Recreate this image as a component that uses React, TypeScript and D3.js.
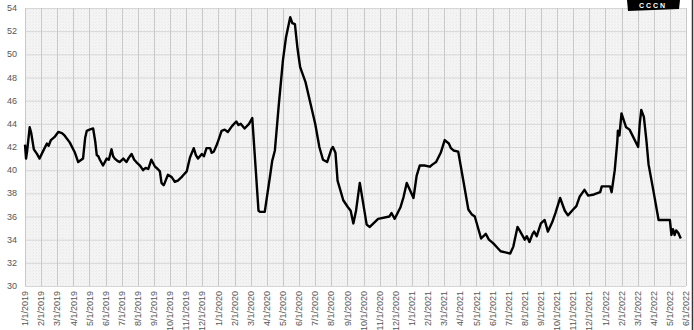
import { useEffect, useRef } from "react"
import * as d3 from "d3"

// price series, one pair of arrays per year
const dates2019 = [
  "2019-01-01", "2019-01-03", "2019-01-05", "2019-01-10", "2019-01-13", "2019-01-18", "2019-01-24",
  "2019-01-29", "2019-02-04", "2019-02-11", "2019-02-14", "2019-02-18", "2019-02-25", "2019-03-03",
  "2019-03-10", "2019-03-15", "2019-03-25", "2019-04-04", "2019-04-10", "2019-04-19", "2019-04-23",
  "2019-04-26", "2019-05-01", "2019-05-08", "2019-05-12", "2019-05-15", "2019-05-18", "2019-05-21",
  "2019-05-27", "2019-06-03", "2019-06-07", "2019-06-12", "2019-06-15", "2019-06-18", "2019-06-23",
  "2019-06-27", "2019-07-04", "2019-07-10", "2019-07-15", "2019-07-20", "2019-07-25", "2019-07-29",
  "2019-08-05", "2019-08-11", "2019-08-16", "2019-08-21", "2019-08-27", "2019-09-03", "2019-09-08",
  "2019-09-12", "2019-09-15", "2019-09-19", "2019-09-21", "2019-09-27", "2019-10-04", "2019-10-07",
  "2019-10-10", "2019-10-16", "2019-10-23", "2019-10-27", "2019-11-02", "2019-11-08", "2019-11-15",
  "2019-11-19", "2019-11-23", "2019-11-30", "2019-12-04", "2019-12-09", "2019-12-16", "2019-12-19",
  "2019-12-23", "2019-12-28",
]
const prices2019 = [
  42.2, 41.0, 41.6, 43.7, 43.2, 41.8, 41.4,
  41.0, 41.6, 42.3, 42.1, 42.6, 42.9, 43.3,
  43.2, 43.0, 42.4, 41.5, 40.7, 41.0, 42.8,
  43.4, 43.5, 43.6, 42.5, 41.3, 41.2, 40.9,
  40.4, 41.0, 40.9, 41.8, 41.2, 41.0, 40.8,
  40.7, 41.0, 40.7, 41.1, 41.4, 40.9, 40.7,
  40.4, 40.0, 40.2, 40.1, 40.9, 40.3, 40.1,
  39.9, 38.9, 38.7, 38.9, 39.6, 39.4, 39.2,
  39.0, 39.1, 39.4, 39.6, 39.9, 41.1, 41.9,
  41.3, 41.0, 41.4, 41.2, 41.9, 41.9, 41.5,
  41.6, 42.1,
]

const dates2020 = [
  "2020-01-01", "2020-01-07", "2020-01-13", "2020-01-19", "2020-01-27", "2020-02-04", "2020-02-08",
  "2020-02-12", "2020-02-19", "2020-02-27", "2020-03-04", "2020-03-10", "2020-03-16", "2020-03-19",
  "2020-03-28", "2020-04-07", "2020-04-11", "2020-04-16", "2020-04-23", "2020-05-01", "2020-05-07",
  "2020-05-15", "2020-05-19", "2020-05-24", "2020-05-29", "2020-06-03", "2020-06-13", "2020-06-22",
  "2020-07-01", "2020-07-09", "2020-07-16", "2020-07-24", "2020-08-01", "2020-08-04", "2020-08-09",
  "2020-08-13", "2020-08-24", "2020-09-02", "2020-09-07", "2020-09-12", "2020-09-17", "2020-09-24",
  "2020-09-29", "2020-10-07", "2020-10-13", "2020-10-29", "2020-11-19", "2020-11-23", "2020-11-29",
  "2020-12-10", "2020-12-16", "2020-12-22", "2020-12-29",
]
const prices2020 = [
  42.6, 43.4, 43.5, 43.3, 43.8, 44.2, 43.9,
  44.0, 43.6, 44.0, 44.5, 40.5, 36.5, 36.4,
  36.4, 39.5, 40.8, 41.7, 45.5, 49.5, 51.5,
  53.2, 52.7, 52.6, 50.5, 48.9, 47.6, 45.8,
  44.0, 42.0, 40.9, 40.7, 41.8, 42.0, 41.5,
  39.1, 37.4, 36.8, 36.5, 35.4, 36.5, 38.9,
  37.5, 35.3, 35.1, 35.8, 36.0, 36.3, 35.8,
  36.8, 37.7, 38.9, 38.2,
]

const dates2021 = [
  "2021-01-04", "2021-01-10", "2021-01-16", "2021-01-25", "2021-02-04", "2021-02-09", "2021-02-15",
  "2021-02-23", "2021-03-02", "2021-03-10", "2021-03-14", "2021-03-19", "2021-03-28", "2021-04-07",
  "2021-04-16", "2021-04-22", "2021-04-28", "2021-05-10", "2021-05-19", "2021-05-25", "2021-06-02",
  "2021-06-10", "2021-06-16", "2021-06-25", "2021-07-04", "2021-07-10", "2021-07-18", "2021-07-22",
  "2021-08-01", "2021-08-05", "2021-08-10", "2021-08-16", "2021-08-19", "2021-08-24", "2021-09-01",
  "2021-09-08", "2021-09-14", "2021-09-22", "2021-09-28", "2021-10-07", "2021-10-11", "2021-10-16",
  "2021-10-22", "2021-11-01", "2021-11-07", "2021-11-13", "2021-11-22", "2021-11-29", "2021-12-10",
  "2021-12-22", "2021-12-25",
]
const prices2021 = [
  37.6, 39.5, 40.4, 40.4, 40.3, 40.5, 40.7,
  41.5, 42.6, 42.3, 41.9, 41.7, 41.6, 39.0,
  36.6, 36.2, 36.0, 34.1, 34.5, 34.0, 33.7,
  33.3, 33.0, 32.9, 32.8, 33.4, 35.1, 34.8,
  34.0, 34.3, 33.8, 34.5, 34.7, 34.3, 35.4,
  35.7, 34.7, 35.5, 36.3, 37.6, 37.1, 36.5,
  36.1, 36.6, 36.9, 37.7, 38.3, 37.8, 37.9,
  38.1, 38.6,
]

const dates2022 = [
  "2022-01-10", "2022-01-13", "2022-01-19", "2022-01-24", "2022-01-25", "2022-01-28", "2022-02-01",
  "2022-02-09", "2022-02-15", "2022-03-02", "2022-03-05", "2022-03-08", "2022-03-13", "2022-03-18",
  "2022-03-22", "2022-03-31", "2022-04-10", "2022-05-01", "2022-05-04", "2022-05-07", "2022-05-10",
  "2022-05-13", "2022-05-17", "2022-05-22",
]
const prices2022 = [
  38.6, 38.1, 40.0, 42.5, 43.4, 43.0, 44.9,
  43.7, 43.5, 42.0, 44.0, 45.2, 44.6, 42.5,
  40.5, 38.3, 35.7, 35.7, 34.4, 34.9, 34.4,
  34.8, 34.6, 34.1,
]

const yTicks = [30, 32, 34, 36, 38, 40, 42, 44, 46, 48, 50, 52, 54]
const monthTicks = d3.timeMonth.range(new Date(2019, 0, 1), new Date(2022, 5, 2))

const W = 694
const H = 330

// months since Jan 2019, fractional by day
function monthPos(d: Date) {
  const whole = (d.getFullYear() - 2019) * 12 + d.getMonth()
  const days = new Date(d.getFullYear(), d.getMonth() + 1, 0).getDate()
  return whole + (d.getDate() - 1) / days
}

export default function App() {
  const svgRef = useRef<SVGSVGElement>(null)

  useEffect(() => {
    if (!svgRef.current) return
    const svg = d3.select(svgRef.current)
    svg.selectAll("*").remove()

    const left = 25
    const right = 686
    const top = 8
    const bottom = 286

    const x = d3.scaleLinear().domain([0, monthTicks.length - 1]).range([left, right])
    const y = d3.scaleLinear().domain([30, 54]).range([bottom, top])

    const parse = d3.timeParse("%Y-%m-%d")
    const allDates = [...dates2019, ...dates2020, ...dates2021, ...dates2022]
    const allPrices = [...prices2019, ...prices2020, ...prices2021, ...prices2022]
    const points = allDates.map((s, i) => ({ m: monthPos(parse(s) as Date), v: allPrices[i] }))

    // textured plot background
    const defs = svg.append("defs")
    const pat = defs
      .append("pattern")
      .attr("id", "bgtex")
      .attr("width", 3)
      .attr("height", 3)
      .attr("patternUnits", "userSpaceOnUse")
    pat.append("rect").attr("width", 3).attr("height", 3).attr("fill", "#f4f4f4")
    pat.append("rect").attr("width", 1).attr("height", 1).attr("fill", "#e9e9e9")
    pat.append("rect").attr("x", 2).attr("y", 1).attr("width", 1).attr("height", 1).attr("fill", "#ececec")

    svg
      .append("rect")
      .attr("x", left)
      .attr("y", top)
      .attr("width", right - left)
      .attr("height", bottom - top)
      .attr("fill", "url(#bgtex)")

    // horizontal grid
    svg
      .append("g")
      .selectAll("line")
      .data(yTicks)
      .enter()
      .append("line")
      .attr("x1", left)
      .attr("x2", right)
      .attr("y1", (d) => y(d) + 0.5)
      .attr("y2", (d) => y(d) + 0.5)
      .attr("stroke", "#d6d6d6")
      .attr("stroke-width", 1)

    // vertical grid
    svg
      .append("g")
      .selectAll("line")
      .data(monthTicks)
      .enter()
      .append("line")
      .attr("x1", (d) => Math.round(x(monthPos(d))) + 0.5)
      .attr("x2", (d) => Math.round(x(monthPos(d))) + 0.5)
      .attr("y1", top)
      .attr("y2", bottom)
      .attr("stroke", "#c9c9c9")
      .attr("stroke-width", 1)

    // y labels
    svg
      .append("g")
      .selectAll("text")
      .data(yTicks)
      .enter()
      .append("text")
      .attr("x", 17)
      .attr("y", (d) => y(d))
      .attr("dy", "0.35em")
      .attr("text-anchor", "end")
      .attr("font-family", "Liberation Sans, Arial, sans-serif")
      .attr("font-size", "9px")
      .attr("fill", "#555")
      .text((d) => d)

    // x labels, rotated
    const fmt = (d: Date) => `${d.getMonth() + 1}/${d.getDate()}/${d.getFullYear()}`
    svg
      .append("g")
      .selectAll("text")
      .data(monthTicks)
      .enter()
      .append("text")
      .attr("transform", (d) => `translate(${x(monthPos(d))},291) rotate(-90)`)
      .attr("dy", "0.35em")
      .attr("text-anchor", "end")
      .attr("font-family", "Liberation Sans, Arial, sans-serif")
      .attr("font-size", "9px")
      .attr("fill", "#555")
      .text(fmt)

    // price line
    const line = d3
      .line<{ m: number; v: number }>()
      .x((d) => x(d.m))
      .y((d) => y(d.v))
      .curve(d3.curveLinear)

    svg
      .append("path")
      .datum(points)
      .attr("d", line)
      .attr("fill", "none")
      .attr("stroke", "#000")
      .attr("stroke-width", 2.4)
      .attr("stroke-linejoin", "round")

    // logo badge, top right
    svg
      .append("path")
      .attr("d", "M627,0 L680,0 L679,9 L628,11 Z")
      .attr("fill", "#000")
    svg
      .append("text")
      .attr("x", 653)
      .attr("y", 8)
      .attr("text-anchor", "middle")
      .attr("font-family", "Liberation Sans, Arial, sans-serif")
      .attr("font-weight", "bold")
      .attr("font-size", "7px")
      .attr("letter-spacing", "2px")
      .attr("fill", "#fff")
      .text("CCCN")

    // frame edge on the right
    svg
      .append("line")
      .attr("x1", 692.5)
      .attr("x2", 692.5)
      .attr("y1", 0)
      .attr("y2", H)
      .attr("stroke", "#333")
      .attr("stroke-width", 1.5)
  }, [])

  return (
    <svg
      ref={svgRef}
      width={W}
      height={H}
      style={{ position: "absolute", left: 0, top: 0, background: "#fff" }}
    />
  )
}
